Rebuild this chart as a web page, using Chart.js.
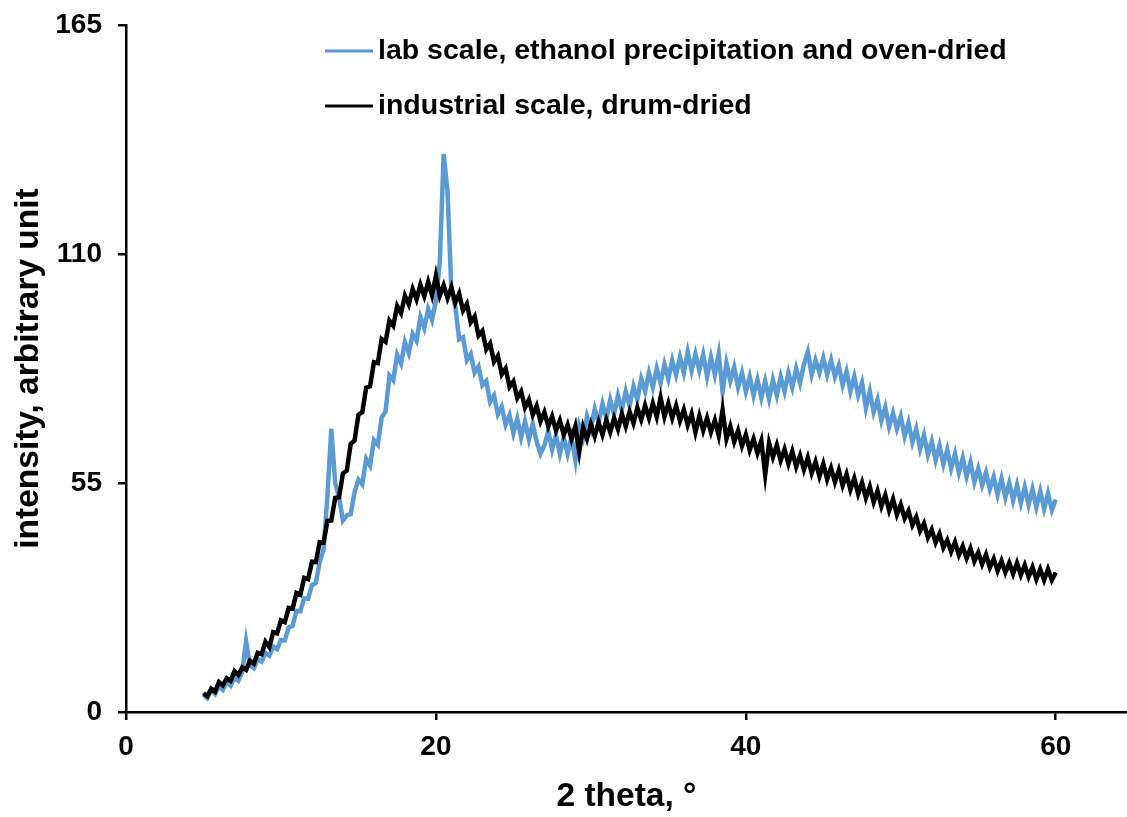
<!DOCTYPE html>
<html>
<head>
<meta charset="utf-8">
<script src="https://cdn.jsdelivr.net/npm/chart.js@4.4.1/dist/chart.umd.min.js"></script>
<style>
	html, body { margin: 0; padding: 0; background: #fff; }
	#wrap { width: 1127px; height: 817px; position: relative; }
</style>
</head>
<body>
<div id="wrap"><canvas id="myChart" width="1127" height="817"></canvas></div>
<script>
// 2 theta grid : 5 ~ 60, step 0.25
const thetaStart = 5;
const thetaStep = 0.25;

const labName = "lab scale, ethanol precipitation and oven-dried";
const industrialName = "industrial scale, drum-dried";

// lab scale (blue)
const labIntensity = [
	4.1, 3.3, 5.2, 4.3, 6.2, 5.3, 7.2, 6.3, 8.2, 7.5, 9.7, 17, 11.2, 10.5, 12.7, 12.1, 14.2, 13.5, 15.7, 15.1,
	17.3, 17.2, 20.3, 20.7, 24.3, 24.2, 27.3, 27.2, 30.5, 31, 36, 39, 52, 68, 55, 51.5, 46, 47.2, 47.5, 52.8,
	55.8, 54.7, 60.8, 59.2, 65.3, 64.2, 70.8, 72.2, 80.8, 79.7, 85.8, 83.7, 88.8, 86.2, 90.8, 89.2, 94.8, 92.2, 96.8, 94.2,
	98.8, 108, 134, 125, 101, 97.5, 89.5, 90, 84.5, 86, 81.5, 83, 78.5, 79.5, 74.5, 76, 71.5, 73.3, 69, 71.3,
	67, 70.5, 66, 69.8, 65.5, 69.2, 65, 62, 64, 67.5, 63, 66.5, 62, 66, 62, 66, 60.5, 68.8, 66, 71,
	68, 72.8, 69.5, 74, 70.5, 75, 71.5, 76, 72.5, 77, 73.5, 78.2, 75, 80, 77, 81.5, 78, 82.5, 79, 83.5,
	80, 84.5, 81, 85.2, 81.5, 86.5, 82, 86, 82, 85.8, 80.5, 85.2, 81, 86, 77, 83.8, 79.5, 82.8, 78, 81.5,
	77, 80.5, 76, 79.8, 75.5, 79.5, 75.2, 79.8, 76, 80.5, 77, 81.5, 78, 82.5, 79, 83.5, 86.5, 81, 84.5, 81.5,
	85, 81, 84.5, 80.5, 83.2, 78.5, 81.8, 77, 80.5, 76, 79, 73, 77, 72, 75, 70, 73.2, 68.5, 71.8, 68,
	71, 66.2, 69.5, 64.8, 68, 63.2, 66.5, 61.8, 65, 60.5, 64, 59.5, 63, 58.5, 62, 57.5, 61, 56.5, 60, 55.2,
	58.5, 54.5, 57.5, 53.5, 56.5, 52.2, 56, 51.5, 55, 50.8, 54.5, 50.2, 54, 49.8, 53.5, 49.2, 53, 48.8, 52.5, 48.5,
	51
];

// industrial scale (black)
const industrialIntensity = [
	4.5, 3.8, 5.6, 4.9, 7.2, 6.4, 8.1, 7.5, 9.8, 8.9, 10.7, 10.1, 12.3, 11.6, 14.2, 13.9, 16.9, 15.6, 19.2, 18.9,
	22, 21.6, 25, 24.8, 28.6, 28.2, 32.2, 31.9, 36.1, 36, 40.8, 40.7, 45.9, 46, 51.4, 51.6, 57.3, 58, 64.4, 65.2,
	71.4, 72, 77.9, 78.2, 84, 83.8, 89.6, 88.9, 94, 92.8, 97.5, 95.8, 100, 97.9, 101.6, 99.1, 102.6, 99.9, 103.3, 100.1,
	104.8, 100, 102.5, 99.4, 102, 98.3, 100.5, 96.4, 98, 93.6, 95, 90.4, 91.5, 87.1, 88.5, 84.1, 85.5, 81.1, 82.5, 78.1,
	79.4, 75.4, 77, 73.1, 75, 71.4, 73.5, 69.8, 72, 68.6, 71, 67.6, 70, 66.6, 69, 65.6, 68.6, 62.5, 68.4, 65.6,
	69.1, 66.2, 69.6, 66.6, 70.1, 67.2, 70.6, 67.9, 71.6, 68.6, 72.1, 69.4, 73.1, 70.2, 73.6, 70.6, 74.1, 70.9, 75.5, 70.9,
	74.1, 70.6, 73.6, 69.9, 72.6, 68.9, 71.6, 67.2, 71.1, 67.6, 70.6, 67.2, 70.1, 66.4, 72.5, 65.6, 68.6, 64.9, 67.6, 63.9,
	66.6, 62.9, 65.6, 62.2, 65.1, 57, 64.6, 61.2, 64.1, 60.4, 63.1, 59.6, 62.6, 58.9, 61.6, 58.2, 61.1, 57.4, 60.1, 56.6,
	59.6, 55.9, 58.6, 55.2, 58.1, 54.4, 57.1, 53.4, 56.1, 52.4, 55.1, 51.4, 54.1, 50.4, 53.1, 49.4, 52.1, 48.4, 51.1, 47.4,
	49.8, 46.5, 48.3, 44.9, 46.8, 43.5, 45.3, 41.9, 43.8, 40.7, 42.8, 39.5, 41.3, 38.5, 40.8, 37.7, 39.8, 36.9, 39.3, 36.2,
	38.3, 35.5, 37.8, 34.7, 36.8, 33.9, 36.3, 33.5, 35.8, 33.2, 35.8, 32.9, 35.3, 32.5, 34.8, 31.9, 34.3, 31.7, 34.3, 31.7,
	33.5
];

const xTicks = [0, 20, 40, 60];
const yTicks = [0, 55, 110, 165];

function toPoints(values) {
	return values.map((v, i) => ({ x: thetaStart + i * thetaStep, y: v }));
}

const font = "'Liberation Sans', Arial, sans-serif";

// legend drawn inside the plot area
const innerLegend = {
	id: "innerLegend",
	afterDraw(chart) {
		const ctx = chart.ctx;
		const rows = [
			{ ds: chart.data.datasets[0], y: 51 },
			{ ds: chart.data.datasets[1], y: 106 }
		];
		ctx.save();
		ctx.font = "bold 28.5px " + font;
		ctx.textBaseline = "middle";
		ctx.fillStyle = "#000";
		rows.forEach(r => {
			ctx.strokeStyle = r.ds.borderColor;
			ctx.lineWidth = 3;
			ctx.beginPath();
			ctx.moveTo(325, r.y);
			ctx.lineTo(373, r.y);
			ctx.stroke();
			ctx.fillText(r.ds.label, 378, r.y);
		});
		ctx.restore();
	}
};

const ctx = document.getElementById("myChart").getContext("2d");
new Chart(ctx, {
	type: "line",
	data: {
		datasets: [{
			label: labName,
			data: toPoints(labIntensity),
			borderColor: "#5B9BD5",
			borderWidth: 4.5,
			pointRadius: 0,
			tension: 0,
			order: 2
		}, {
			label: industrialName,
			data: toPoints(industrialIntensity),
			borderColor: "#000000",
			borderWidth: 4.5,
			pointRadius: 0,
			tension: 0,
			order: 1
		}]
	},
	options: {
		responsive: false,
		animation: false,
		layout: { padding: { top: 25, right: 0, bottom: 0, left: 0 } },
		plugins: {
			legend: { display: false },
			tooltip: { enabled: false }
		},
		scales: {
			x: {
				type: "linear",
				min: 0,
				max: 64.6,
				afterBuildTicks: s => { s.ticks = xTicks.map(v => ({ value: v })); },
				afterFit: s => { s.height = 105; },
				grid: { drawOnChartArea: false, drawTicks: true, tickLength: 8, color: "#000", lineWidth: 2.5 },
				border: { display: true, color: "#000", width: 2.5 },
				ticks: { color: "#000", padding: 10, font: { family: font, size: 28, weight: "bold" } },
				title: {
					display: true,
					text: "2 theta, °",
					color: "#000",
					padding: { top: 0, bottom: 0 },
					font: { family: font, size: 33.5, weight: "bold" }
				}
			},
			y: {
				min: 0,
				max: 165,
				afterBuildTicks: s => { s.ticks = yTicks.map(v => ({ value: v })); },
				afterFit: s => {
					s.width = 126;
					s.paddingTop = 18; // keep plot top at 25px
					s.paddingBottom = 18;
				},
				grid: { drawOnChartArea: false, drawTicks: true, tickLength: 8, color: "#000", lineWidth: 2.5 },
				border: { display: true, color: "#000", width: 2.5 },
				ticks: { color: "#000", padding: 16, font: { family: font, size: 28, weight: "bold" } },
				title: {
					display: true,
					text: "intensity, arbitrary unit",
					color: "#000",
					padding: { top: 9, bottom: 0 },
					font: { family: font, size: 33.5, weight: "bold" }
				}
			}
		}
	},
	plugins: [innerLegend]
});
</script>
</body>
</html>
